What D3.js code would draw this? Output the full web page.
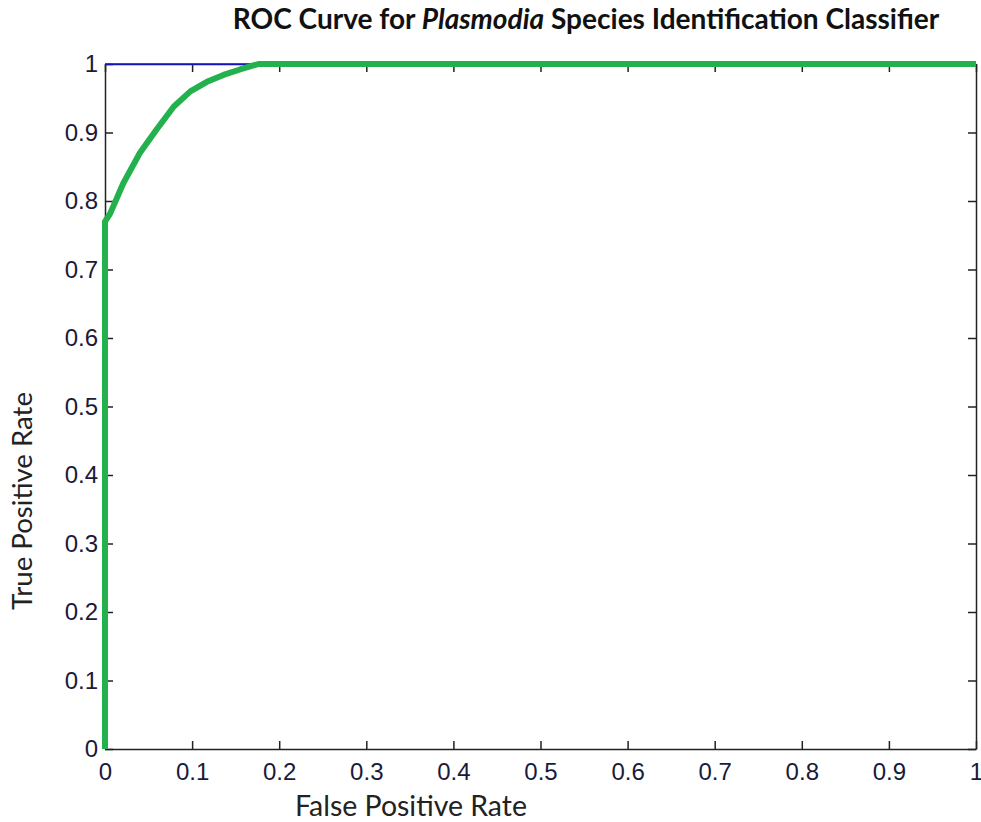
<!DOCTYPE html>
<html>
<head>
<meta charset="utf-8">
<script src="https://cdn.jsdelivr.net/npm/d3@7"></script>
<style>
  body { margin: 0; background: #fff; }
  svg { display: block; }
</style>
</head>
<body>
<svg id="chart" width="981" height="822"></svg>
<script>
// ROC curve points
const fpr = [0, 0, 0.006, 0.021, 0.040, 0.059, 0.079, 0.098, 0.117, 0.136, 0.155, 0.176, 0.595, 1];
const tpr = [0, 0.770, 0.782, 0.826, 0.870, 0.904, 0.938, 0.960, 0.974, 0.984, 0.992, 1, 1, 1];
// reference line along the top
const refX = [0, 1];
const refY = [1, 1];
const ticks = [0, 0.1, 0.2, 0.3, 0.4, 0.5, 0.6, 0.7, 0.8, 0.9, 1];

const svg = d3.select("#chart");
const plotL = 105, plotR = 976, plotT = 64, plotB = 749;

const x = d3.scaleLinear().domain([0, 1]).range([plotL, plotR]);
const y = d3.scaleLinear().domain([0, 1]).range([plotB, plotT]);

const tickFmt = d => d === 0 || d === 1 ? d3.format("d")(d) : d3.format(".1f")(d);
const tickFont = "'Liberation Sans', Arial, sans-serif";

// axes with inward ticks on all four sides
const axes = [
  { a: d3.axisBottom(x), t: `translate(0,${plotB})`, labels: true, side: "bottom" },
  { a: d3.axisTop(x), t: `translate(0,${plotT})`, labels: false, side: "top" },
  { a: d3.axisLeft(y), t: `translate(${plotL},0)`, labels: true, side: "left" },
  { a: d3.axisRight(y), t: `translate(${plotR},0)`, labels: false, side: "right" }
];
axes.forEach(({ a, t, labels, side }) => {
  const g = svg.append("g").attr("transform", t)
    .call(a.tickValues(ticks).tickFormat(tickFmt).tickSizeInner(-8).tickSizeOuter(0));
  g.select(".domain").attr("stroke", "#222").attr("stroke-width", 1.5);
  g.selectAll(".tick line").attr("stroke", "#222").attr("stroke-width", 1.5);
  const txt = g.selectAll(".tick text")
    .attr("font-family", tickFont).attr("font-size", 24).attr("fill", "#1a1a3a");
  if (!labels) txt.remove();
  if (side === "left") txt.attr("x", -7);
  if (side === "bottom") txt.attr("y", 14);
});

const line = d3.line().x(d => x(d[0])).y(d => y(d[1]));

svg.append("path")
  .datum(d3.zip(refX, refY))
  .attr("d", line)
  .attr("fill", "none").attr("stroke", "#1010ee").attr("stroke-width", 1.5);

svg.append("path")
  .datum(d3.zip(fpr, tpr))
  .attr("d", line)
  .attr("fill", "none").attr("stroke", "#22b14c").attr("stroke-width", 6)
  .attr("stroke-linejoin", "round");

// text labels, sized to the widths in the reference
const labelFont = "Lato, 'Open Sans', sans-serif";
function fit(sel, width) {
  const w = sel.node().getComputedTextLength();
  const fs = +sel.attr("font-size");
  sel.attr("font-size", fs * width / w);
}

const title = svg.append("text")
  .attr("x", 586).attr("y", 29).attr("text-anchor", "middle")
  .attr("font-family", labelFont).attr("font-weight", "bold").attr("font-size", 24).attr("fill", "#111");
title.append("tspan").text("ROC Curve for ");
title.append("tspan").attr("font-style", "italic").text("Plasmodia");
title.append("tspan").text(" Species Identification Classifier");
fit(title, 707);

const xl = svg.append("text")
  .attr("x", 411).attr("y", 816).attr("text-anchor", "middle")
  .attr("font-family", labelFont).attr("font-size", 22).attr("fill", "#222")
  .text("False Positive Rate");
fit(xl, 232);

const yl = svg.append("text")
  .attr("transform", "translate(32,501) rotate(-90)").attr("text-anchor", "middle")
  .attr("font-family", labelFont).attr("font-size", 22).attr("fill", "#222")
  .text("True Positive Rate");
fit(yl, 218);
</script>
</body>
</html>
